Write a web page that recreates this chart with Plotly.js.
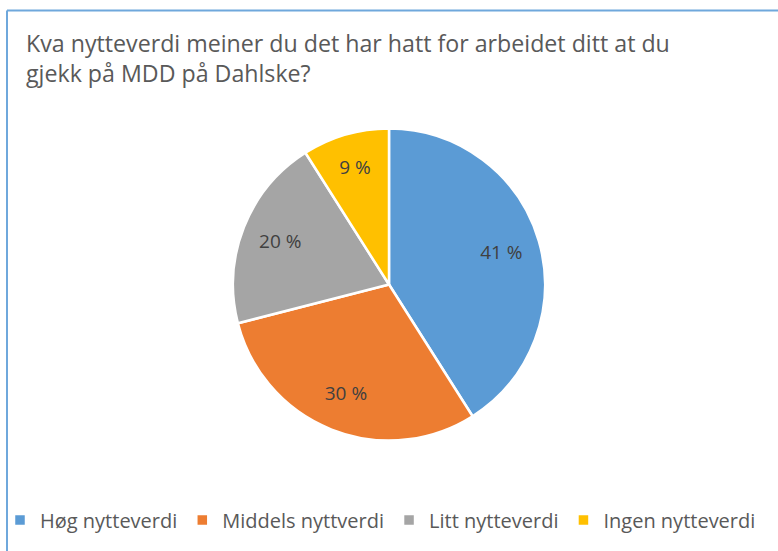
<!DOCTYPE html>
<html>
<head>
<meta charset="utf-8">
<script src="https://cdn.plot.ly/plotly-3.0.1.min.js"></script>
<style>html,body{margin:0;padding:0;background:#fff;}#chart{width:778px;height:551px;}</style>
</head>
<body>
<div id="chart"></div>
<script>
const categories = ["Høg nytteverdi", "Middels nyttverdi", "Litt nytteverdi", "Ingen nytteverdi"];
const values = [41, 30, 20, 9];
const colors = ["#5B9BD5", "#ED7D31", "#A5A5A5", "#FFC000"];
const titleText = "Kva nytteverdi meiner du det har hatt for arbeidet ditt at du<br>gjekk på MDD på Dahlske?";

const W = 778, H = 551;
const cx = 389, cy = 284.5, r = 156;
const pieDomain = { x: [(cx - r) / W, (cx + r) / W], y: [(H - cy - r) / H, (H - cy + r) / H] };

const slices = {
  type: "pie",
  labels: categories,
  values: values,
  sort: false,
  direction: "clockwise",
  rotation: 0,
  marker: { colors: colors, line: { color: "#ffffff", width: 2.5 } },
  textinfo: "none",
  hoverinfo: "none",
  domain: pieDomain
};

// transparent ring carrying the data labels, so they sit at ~75% of the radius
const labelsRing = {
  type: "pie",
  labels: categories,
  values: values,
  sort: false,
  direction: "clockwise",
  rotation: 0,
  hole: 0.5,
  showlegend: false,
  marker: { colors: ["rgba(0,0,0,0)", "rgba(0,0,0,0)", "rgba(0,0,0,0)", "rgba(0,0,0,0)"], line: { width: 0 } },
  texttemplate: "%{value} %",
  textposition: "inside",
  insidetextorientation: "horizontal",
  textfont: { family: "Open Sans, sans-serif", size: 19, color: "#404040" },
  hoverinfo: "none",
  domain: pieDomain
};

const layout = {
  width: W, height: H,
  margin: { l: 0, r: 0, t: 0, b: 0 },
  paper_bgcolor: "#ffffff",
  showlegend: true,
  title: {
    text: titleText,
    x: 26 / W, xanchor: "left", xref: "paper",
    y: 1 - 52 / H, yanchor: "top", yref: "paper",
    font: { family: "Open Sans, sans-serif", size: 23.2, color: "#595959" }
  },
  legend: {
    orientation: "h",
    x: 0 / W, xanchor: "left",
    y: (H - 520) / H, yanchor: "middle",
    bgcolor: "rgba(0,0,0,0)",
    font: { family: "Open Sans, sans-serif", size: 20, color: "#595959" },
    itemclick: false,
    traceorder: "normal"
  },
  shapes: [
    { type: "line", xref: "paper", yref: "paper", x0: 7 / W, x1: 7 / W, y0: 0, y1: 1 - 10.5 / H, line: { color: "#6FA8DC", width: 2 } },
    { type: "line", xref: "paper", yref: "paper", x0: 7 / W, x1: 1, y0: 1 - 10.5 / H, y1: 1 - 10.5 / H, line: { color: "#6FA8DC", width: 2 } }
  ]
};

Plotly.newPlot("chart", [slices, labelsRing], layout, { displayModeBar: false, staticPlot: true });
</script>
</body>
</html>
